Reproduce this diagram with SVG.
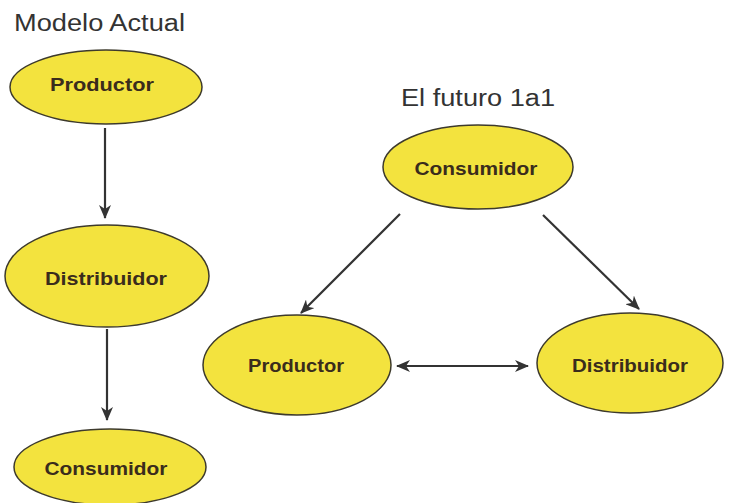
<svg xmlns="http://www.w3.org/2000/svg" width="735" height="503" viewBox="0 0 735 503">
<style>
.node ellipse{fill:#f3e33e;stroke:#3d3a2c;stroke-width:1.5}
.node text{font-family:"Liberation Sans",Arial,sans-serif;font-weight:bold;font-size:18px;fill:#3a2c1c;text-anchor:middle}
.title{font-family:"Liberation Sans",Arial,sans-serif;font-size:23px;fill:#333}
.edges line{stroke:#333;stroke-width:2.2;fill:none}
</style>
<defs>
<marker id="ah" viewBox="0 0 14 12" refX="13" refY="6" markerWidth="14" markerHeight="12" markerUnits="userSpaceOnUse" orient="auto-start-reverse">
<path d="M0,0 L14,6 L0,12 L4,6 Z" fill="#333"/>
</marker>
</defs>
<rect width="735" height="503" fill="#fff"/>
<text class="title" x="14" y="31" textLength="171" lengthAdjust="spacingAndGlyphs">Modelo Actual</text>
<text class="title" x="401" y="106" textLength="154" lengthAdjust="spacingAndGlyphs">El futuro 1a1</text>
<g class="edges">
<line x1="105" y1="128" x2="105" y2="218" marker-end="url(#ah)"/>
<line x1="107" y1="329" x2="107" y2="420" marker-end="url(#ah)"/>
<line x1="400" y1="214" x2="301" y2="313" marker-end="url(#ah)"/>
<line x1="543" y1="215" x2="639" y2="309" marker-end="url(#ah)"/>
<line x1="397" y1="366" x2="528" y2="366" marker-start="url(#ah)" marker-end="url(#ah)"/>
</g>
<g id="a-productor" class="node">
<ellipse cx="106" cy="87" rx="96" ry="37"/>
<text x="102" y="91" textLength="104" lengthAdjust="spacingAndGlyphs">Productor</text>
</g>
<g id="a-distribuidor" class="node">
<ellipse cx="107" cy="276" rx="102" ry="51"/>
<text x="106" y="285" textLength="122" lengthAdjust="spacingAndGlyphs">Distribuidor</text>
</g>
<g id="a-consumidor" class="node">
<ellipse cx="110" cy="467" rx="96" ry="38"/>
<text x="106" y="475" textLength="123" lengthAdjust="spacingAndGlyphs">Consumidor</text>
</g>
<g id="f-consumidor" class="node">
<ellipse cx="478" cy="167" rx="95" ry="42"/>
<text x="476" y="175" textLength="123" lengthAdjust="spacingAndGlyphs">Consumidor</text>
</g>
<g id="f-productor" class="node">
<ellipse cx="297" cy="365" rx="94" ry="50"/>
<text x="296" y="372" textLength="96" lengthAdjust="spacingAndGlyphs">Productor</text>
</g>
<g id="f-distribuidor" class="node">
<ellipse cx="630" cy="363" rx="93" ry="50"/>
<text x="630" y="372" textLength="116" lengthAdjust="spacingAndGlyphs">Distribuidor</text>
</g>
</svg>
